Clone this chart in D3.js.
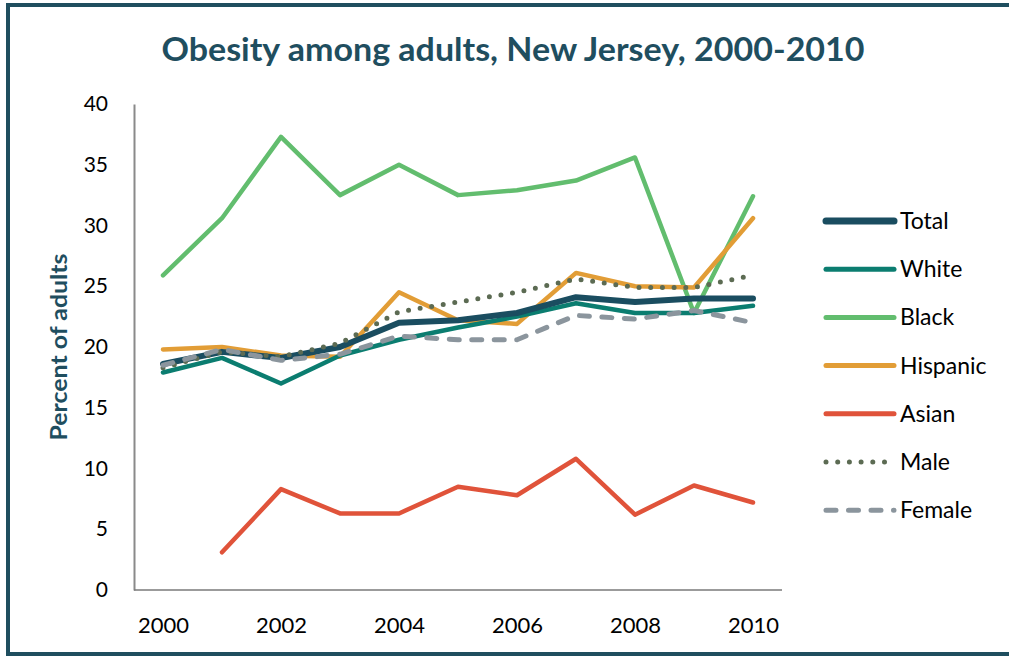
<!DOCTYPE html>
<html><head><meta charset="utf-8">
<script src="https://cdn.jsdelivr.net/npm/d3@7"></script>
<style>body{margin:0;background:#fff}svg{display:block}</style>
</head><body>
<svg id="c" width="1009" height="656"></svg>
<script>
const years = [2000,2001,2002,2003,2004,2005,2006,2007,2008,2009,2010];
const total    = [18.6,19.6,19.1,20.0,22.0,22.2,22.8,24.1,23.7,24.0,24.0];
const white    = [17.9,19.1,17.0,19.3,20.6,21.6,22.5,23.6,22.8,22.8,23.4];
const black    = [25.9,30.6,37.3,32.5,35.0,32.5,32.9,33.7,35.6,22.8,32.4];
const hispanic = [19.8,20.0,19.3,19.2,24.5,22.2,21.9,26.1,25.0,24.9,30.6];
const asian    = [null,3.1,8.3,6.3,6.3,8.5,7.8,10.8,6.2,8.6,7.2];
const male     = [18.3,19.6,19.2,20.3,22.9,23.7,24.5,25.6,24.9,24.9,25.9];
const female   = [18.5,19.8,18.9,19.4,20.9,20.6,20.6,22.6,22.3,23.0,22.0];
const yTicks = [0,5,10,15,20,25,30,35,40];
const xTicks = [2000,2002,2004,2006,2008,2010];
const seriesNames = ["Total","White","Black","Hispanic","Asian","Male","Female"];

const series = [
  {name:"Total", values:total, color:"#1a4d60", w:6, dash:null},
  {name:"White", values:white, color:"#0b7d70", w:4.5, dash:null},
  {name:"Black", values:black, color:"#62bd6e", w:4.5, dash:null},
  {name:"Hispanic", values:hispanic, color:"#e29d36", w:4.5, dash:null},
  {name:"Asian", values:asian, color:"#e0533a", w:4.5, dash:null},
  {name:"Male", values:male, color:"#5c6b53", w:5, dash:"0 11.7"},
  {name:"Female", values:female, color:"#8b959d", w:5, dash:"10 12.5"}
];
const drawOrder = ["Black","Asian","Hispanic","White","Total","Male","Female"];

const svg = d3.select("#c");
const font = "Lato, 'Open Sans', sans-serif";

// frame (right edge runs off the picture)
svg.append("rect").attr("x",8).attr("y",5).attr("width",1010).attr("height",649)
  .attr("fill","#fff").attr("stroke","#1f4e5f").attr("stroke-width",4);

svg.append("text").attr("x",513).attr("y",61).attr("text-anchor","middle")
  .attr("font-family",font).attr("font-weight","bold").attr("font-size",32)
  .attr("fill","#1f4e5f").attr("textLength",703).attr("lengthAdjust","spacingAndGlyphs")
  .text("Obesity among adults, New Jersey, 2000-2010");

const x = d3.scaleLinear().domain([2000,2010]).range([163,753]);
const y = d3.scaleLinear().domain([0,40]).range([590,104]);

// axes
const yAxis = d3.axisLeft(y).tickValues(yTicks).tickSize(0).tickPadding(26);
const gy = svg.append("g").attr("transform","translate(134,0)").call(yAxis);
gy.select(".domain").attr("stroke","#8a8a8a").attr("stroke-width",2);
gy.selectAll("text").attr("font-family",font).attr("font-size",21).attr("fill","#000");

const xAxis = d3.axisBottom(x).tickValues(xTicks).tickFormat(d3.format("d")).tickSize(0).tickPadding(27);
const gx = svg.append("g").attr("transform","translate(0,590)").call(xAxis);
gx.select(".domain").attr("d","M134,0H782").attr("stroke","#7a7a7a").attr("stroke-width",1.5);
gx.selectAll("text").attr("font-family",font).attr("font-size",22).attr("fill","#000");

svg.append("text").attr("transform","translate(67,347) rotate(-90)")
  .attr("text-anchor","middle").attr("font-family",font).attr("font-weight","bold")
  .attr("font-size",22).attr("fill","#1f4e5f")
  .attr("textLength",187).attr("lengthAdjust","spacingAndGlyphs").text("Percent of adults");

const line = d3.line().defined(d=>d[1]!=null).x(d=>x(d[0])).y(d=>y(d[1]));
drawOrder.forEach(n=>{
  const s = series.find(t=>t.name===n);
  svg.append("path").datum(years.map((yr,i)=>[yr,s.values[i]]))
    .attr("d",line).attr("fill","none").attr("stroke",s.color)
    .attr("stroke-width",s.w).attr("stroke-linejoin","round").attr("stroke-linecap","round")
    .attr("stroke-dasharray",s.dash);
});

// legend
const lg = svg.append("g");
seriesNames.forEach((n,i)=>{
  const s = series.find(t=>t.name===n);
  const yy = 221 + i*48.2;
  lg.append("line").attr("x1",826).attr("x2",894).attr("y1",yy).attr("y2",yy)
    .attr("stroke",s.color).attr("stroke-width",s.name==="Total"?7:5)
    .attr("stroke-linecap","round").attr("stroke-dasharray",s.dash);
  lg.append("text").attr("x",900).attr("y",yy+8).attr("font-family",font)
    .attr("font-size",23).attr("fill","#000").text(n);
});
</script>
</body></html>
